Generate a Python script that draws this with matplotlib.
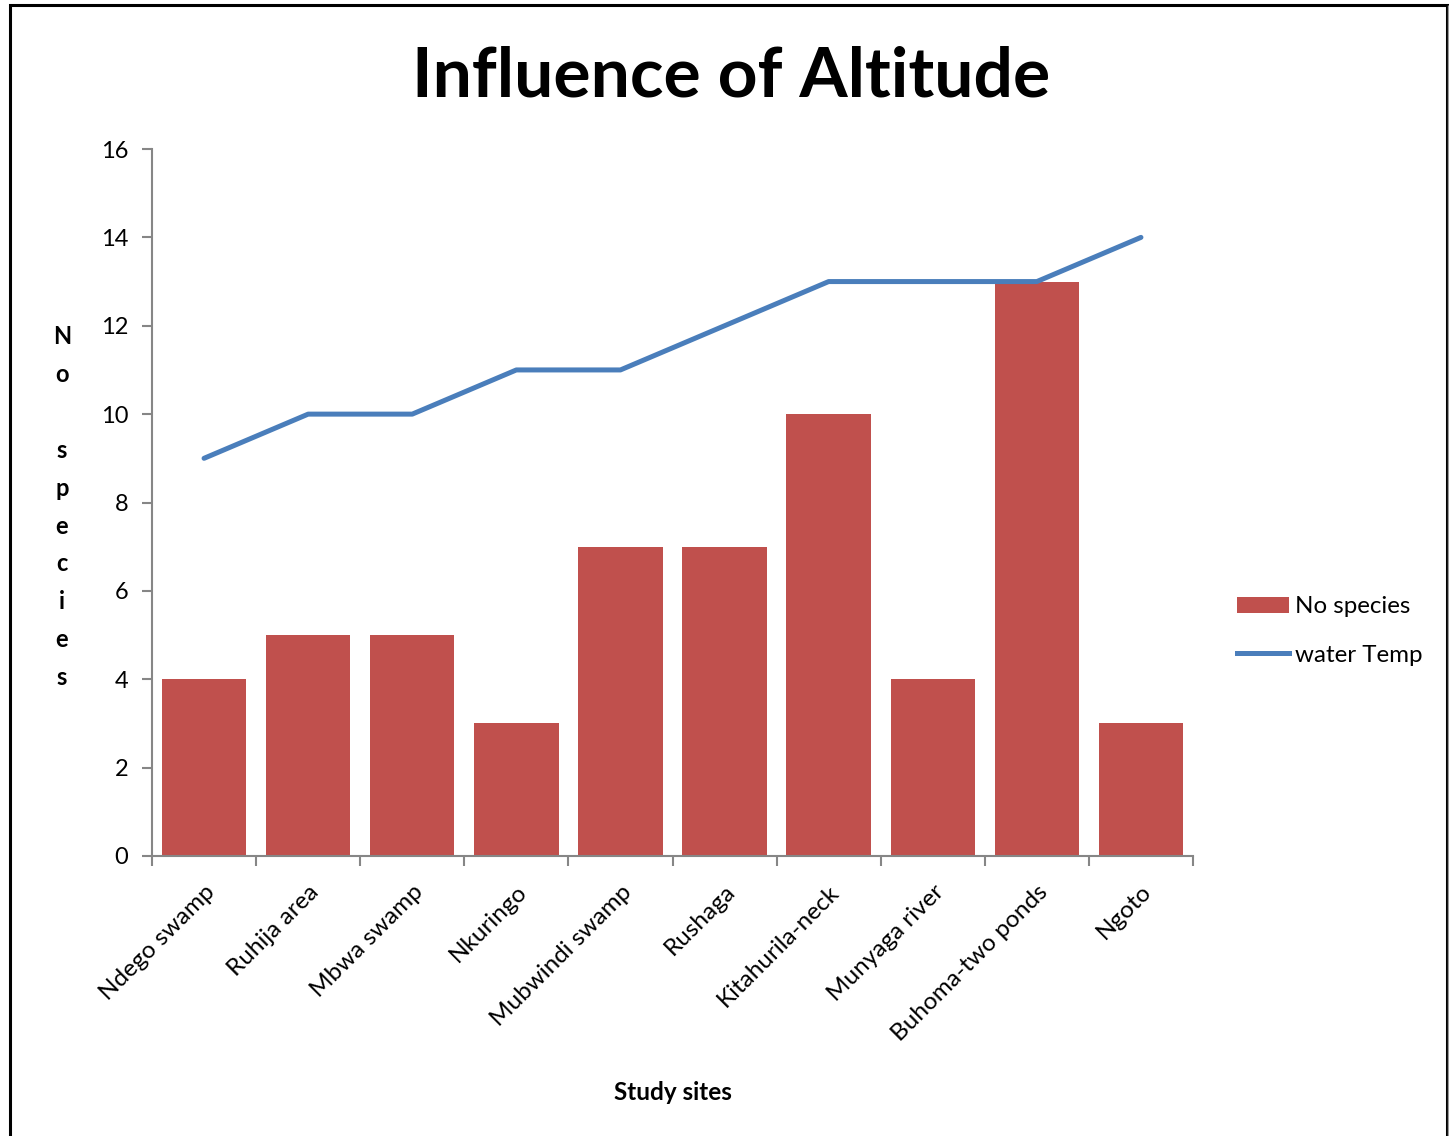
import matplotlib
matplotlib.use("Agg")
import matplotlib.pyplot as plt
from matplotlib.patches import Rectangle, Patch
from matplotlib.lines import Line2D
import numpy as np

# ── data ──────────────────────────────────────────────────────────────────────
sites = ["Ndego swamp", "Ruhija area", "Mbwa swamp", "Nkuringo", "Mubwindi swamp",
         "Rushaga", "Kitahurila-neck", "Munyaga river", "Buhoma-two ponds", "Ngoto"]
no_species = [4, 5, 5, 3, 7, 7, 10, 4, 13, 3]
water_temp = [9, 10, 10, 11, 11, 12, 13, 13, 13, 14]
y_ticks = [0, 2, 4, 6, 8, 10, 12, 14, 16]

COLORS = {
    "bar":   "#C0504D",
    "line":  "#4A7EBB",
    "axis":  "#868686",
    "text":  "#000000",
}

plt.rcParams["font.family"] = ["Lato", "DejaVu Sans"]

fig = plt.figure(figsize=(14.49, 11.36), dpi=100)
W, H = 1449, 1136

# outer frame
fig.patches.append(Rectangle((10 / W, -0.05), (1447 - 10) / W, 1.05 - 5 / H,
                             transform=fig.transFigure, fill=False,
                             edgecolor="black", linewidth=2.2))
fig.patches.append(Rectangle((1447.5 / W, 0), 0, 1 - 5 / H, transform=fig.transFigure,
                             fill=False, edgecolor="#999999", linewidth=1))

ax = fig.add_axes([152 / W, 1 - 856 / H, (1193 - 152) / W, (856 - 149) / H])
x = np.arange(len(sites))

ax.bar(x, no_species, width=0.81, color=COLORS["bar"], zorder=2)
ax.plot(x, water_temp, color=COLORS["line"], linewidth=3.6, zorder=3,
        solid_capstyle="round")

ax.set_xlim(-0.5, len(sites) - 0.5)
ax.set_ylim(0, 16)
ax.set_yticks(y_ticks)
ax.set_yticklabels([str(v) for v in y_ticks], fontsize=17)
ax.tick_params(axis="y", direction="out", length=7, width=1.5, color=COLORS["axis"], pad=10)

# category boundary ticks on x
ax.set_xticks(np.arange(-0.5, len(sites) + 0.5, 1))
ax.set_xticklabels([])
ax.tick_params(axis="x", direction="out", length=7, width=1.5, color=COLORS["axis"])
ax.set_xticks(x, minor=True)
ax.set_xticklabels(sites, minor=True, rotation=45, ha="right",
                   rotation_mode="anchor", fontsize=17.5)
ax.tick_params(axis="x", which="minor", length=0, pad=18)
for lbl in ax.get_xticklabels(minor=True):
    lbl.set_x(lbl.get_position()[0])

for s in ["top", "right"]:
    ax.spines[s].set_visible(False)
for s in ["left", "bottom"]:
    ax.spines[s].set_color(COLORS["axis"])
    ax.spines[s].set_linewidth(1.5)

# title
fig.text(731 / W, 1 - 77 / H, "Influence of Altitude", fontsize=50,
         fontweight="bold", ha="center", va="center")

# x label
fig.text(673 / W, 1 - 1093 / H, "Study sites", fontsize=17.5,
         fontweight="bold", ha="center", va="center")

# stacked y label
ylabel = "No species"
y0, dy = 337, 37.8
for i, ch in enumerate(ylabel):
    if ch == " ":
        continue
    fig.text(62 / W, 1 - (y0 + i * dy) / H, ch, fontsize=17,
             fontweight="bold", ha="center", va="center")

# legend
handles = [Patch(facecolor=COLORS["bar"], edgecolor="none"),
           Line2D([0], [0], color=COLORS["line"], linewidth=3.6)]
fig.legend(handles, ["No species", "water Temp"], loc="center left",
           bbox_to_anchor=(1215 / W, 1 - 631 / H), frameon=False, fontsize=17.4,
           handlelength=2.15, handletextpad=0.25, labelspacing=1.12)

fig.savefig("out.png", dpi=100, facecolor="white")
